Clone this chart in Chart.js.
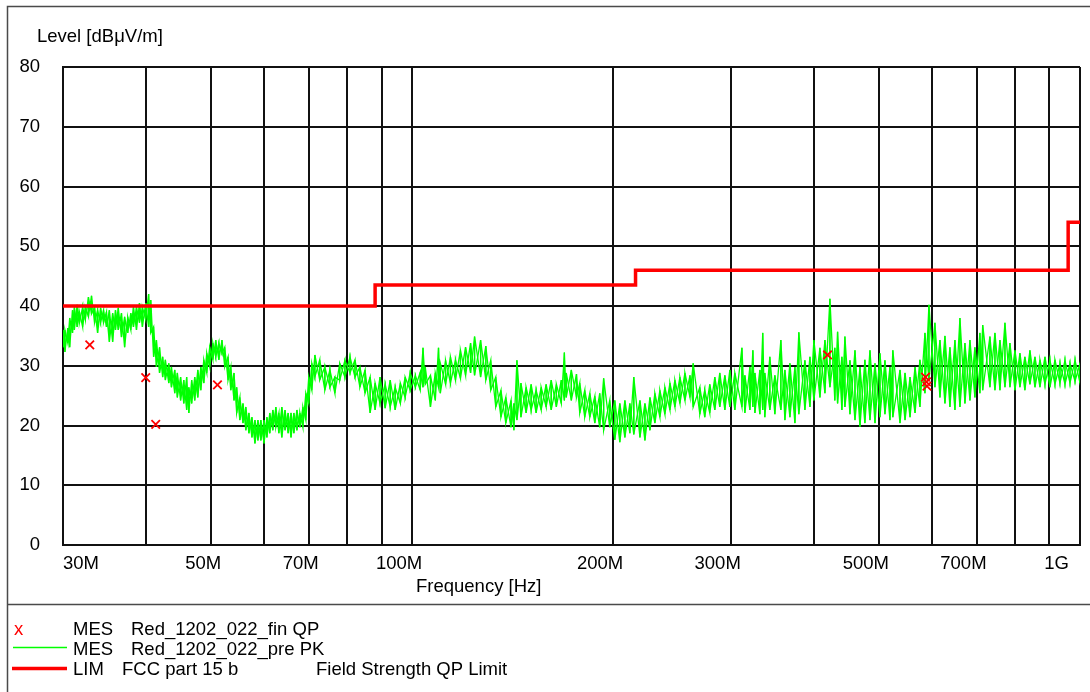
<!DOCTYPE html>
<html>
<head>
<meta charset="utf-8">
<title>Level [dBμV/m]</title>
<script src="https://cdn.jsdelivr.net/npm/chart.js@4.4.0/dist/chart.umd.min.js"></script>
<style>
  html, body { margin: 0; padding: 0; background: #fff; }
  canvas { display: block; }
</style>
</head>
<body>
<canvas id="emcChart" width="1090" height="692" style="width:1090px;height:692px"></canvas>
<script>
// frequency axis (MHz)
const gridFreq = [30, 40, 50, 60, 70, 80, 90, 100, 200, 300, 400, 500, 600, 700, 800, 900, 1000];
const xTickValues = [30, 50, 70, 100, 200, 300, 500, 700, 1000];
const xTickLabels = ['30M', '50M', '70M', '100M', '200M', '300M', '500M', '700M', '1G'];

// pre PK scan: per-bin lower and upper envelope of the trace (dBµV/m)
const traceFreq = [
  30.0, 30.2, 30.5, 30.7, 31.0, 31.2, 31.5, 31.75, 32.1, 32.4, 32.75, 33.1, 33.45, 33.8, 34.15, 34.5, 34.85,
  35.2, 35.6, 35.95, 36.3, 36.7, 37.1, 37.5, 37.9, 38.25, 38.65, 39.05, 39.45, 39.9, 40.3, 40.6, 41.0,
  41.4, 41.85, 42.3, 42.7, 43.2, 43.6, 44.1, 44.5, 45.0, 45.5, 45.95, 46.3, 46.75, 47.25, 47.75, 48.25, 48.75,
  49.25, 49.75, 50.3, 50.8, 51.35, 51.9, 52.4, 53.0, 53.5, 54.1, 54.6, 55.2, 55.8, 56.35, 56.95, 57.55, 58.15,
  58.75, 59.35, 60.0, 60.6, 61.2, 61.85, 62.5, 63.15, 63.8, 64.5, 65.2, 65.85, 66.5, 67.2, 67.9, 68.6, 69.3,
  70.0, 70.75, 71.5,
  72.7, 74.0, 75.3, 76.6, 77.9, 79.3, 80.7, 82.1, 83.5, 85.0, 86.5, 88.0, 89.5, 91.1, 92.7, 94.3, 96.0, 97.6,
  99.3, 101.1, 102.8, 103.8, 104.6, 106.5, 108.3, 109.5, 110.2, 112.2, 114.1, 116.1, 118.1, 120.2, 122.3, 124.0,
  126.6, 128.9, 131.1, 133.4, 135.8, 138.1, 140.6, 142.0, 143.5, 145.5, 148.1, 150.7, 153.3, 156.0, 158.7, 161.5,
  164.4, 167.2, 169.0, 170.1, 173.1, 176.2,
  178.2, 181.3, 184.5, 187.7, 190.9, 193.5, 197.6, 201.1, 204.6, 208.2, 211.8, 214.7, 219.3, 223.1, 227.0, 230.9,
  234.9, 239.0, 243.2, 247.4, 251.7, 256.1, 260.6, 263.5, 269.6, 274.2, 279.0, 283.9, 288.8, 293.9, 299.0, 304.2,
  311.7, 314.9, 320.4, 323.7, 326.0, 331.6, 334.9, 337.3, 343.2, 349.2, 356.5, 361.5, 367.8, 374.2, 379.3, 387.3,
  394.1, 399.5, 407.9, 415.0, 422.2,
  429.4, 433.5, 440.0, 444.6, 452.4, 460.3, 468.3, 476.3, 484.7, 493.2, 501.7, 510.4, 519.3, 524.5, 537.6, 547.0,
  556.5, 566.2, 575.8, 585.9, 594.0, 606.4, 617.0, 627.7, 638.6, 649.7, 661.0, 672.5, 684.2, 696.0, 708.1, 715.0,
  733.0, 745.8, 758.8, 772.0, 785.4, 799.1, 812.9, 826.9, 841.4, 856.1, 871.0, 886.2, 901.6, 917.3, 933.2, 949.5,
  966.0, 983.0, 1000
];
const traceLow = [
  33.1, 32.3, 33.8, 33.1, 35.5, 36.0, 36.5, 37.2, 36.5, 37.7, 38.2, 38.7, 37.2, 35.5, 37.2, 37.2, 36.5,
  34.0, 34.0, 36.0, 36.0, 34.8, 33.1, 35.5, 36.0, 36.5, 36.0, 37.2, 36.5, 37.7, 36.5, 35.5, 31.5,
  29.8, 28.8, 28.1, 27.6, 27.1, 26.4, 25.4, 24.7, 24.2, 23.7, 22.6, 22.1, 23.7, 24.2, 24.7, 25.9, 27.1,
  28.8, 29.8, 31.0, 31.5, 31.0, 32.1, 29.8, 27.6, 25.9, 24.2, 22.1, 20.9, 20.4, 19.2, 18.7, 18.0, 17.0,
  17.5, 17.5, 17.0, 18.0, 18.7, 19.2, 19.7, 18.7, 18.0, 19.2, 18.7, 18.0, 18.7, 19.2, 19.7, 19.7, 20.9,
  23.7, 25.9, 28.1,
  27.6, 25.9, 26.4, 25.4, 27.6, 28.1, 28.8, 28.1, 26.4, 25.4, 22.1, 22.6, 23.7, 22.9, 23.1, 22.6, 23.7, 24.7,
  25.9, 26.4, 25.9, 26.4, 26.9, 23.1, 24.2, 26.4, 25.4, 26.9, 27.1, 27.6, 27.9, 28.4, 28.8, 28.4,
  28.1, 27.6, 25.9, 23.1, 21.4, 20.4, 19.7, 19.2, 20.9, 21.4, 22.1, 22.6, 22.1, 22.6, 23.1, 22.6,
  23.1, 23.7, 24.2, 24.7, 24.2, 24.7,
  22.1, 21.4, 21.4, 20.4, 19.7, 19.2, 19.7, 17.6, 17.2, 18.0, 18.7, 18.5, 18.0, 17.5, 19.2, 20.4,
  21.4, 21.9, 22.6, 23.1, 23.7, 24.2, 24.7, 23.1, 21.9, 21.4, 22.1, 22.6, 23.1, 22.6, 23.1, 22.6,
  23.1, 22.1, 22.6, 23.1, 22.1, 21.9, 22.6, 21.4, 22.6, 21.9, 22.6, 20.9, 21.4, 20.4, 21.9, 22.6,
  23.1, 24.2, 24.7, 25.4, 26.4,
  24.2, 23.7, 22.6, 23.1, 21.9, 20.9, 19.8, 20.4, 20.9, 20.4, 21.4, 21.9, 20.9, 21.4, 20.4, 20.9,
  21.4, 22.1, 23.1, 25.4, 27.6, 26.4, 24.7, 23.7, 23.1, 22.6, 23.1, 23.7, 24.2, 24.7, 25.4, 25.9,
  26.4, 25.9, 25.9, 26.4, 26.4, 25.9, 26.4, 25.9, 26.9, 26.4, 26.4, 26.9, 26.4, 26.9, 27.1, 26.9,
  27.1, 27.4, 27.1
];
const traceHigh = [
  36.0, 36.0, 36.3, 38.0, 39.3, 39.8, 40.2, 39.0, 39.8, 39.8, 41.5, 41.7, 39.8, 39.3, 39.7, 39.3, 39.0,
  39.3, 38.8, 39.3, 39.7, 38.8, 38.2, 38.2, 38.8, 39.8, 39.8, 40.5, 39.8, 40.5, 42.0, 41.0, 36.5,
  34.3, 33.1, 31.5, 31.0, 30.4, 29.8, 29.3, 28.8, 28.1, 27.6, 28.1, 26.4, 27.6, 28.1, 29.3, 29.8, 31.0,
  32.1, 33.1, 33.8, 34.3, 33.8, 34.3, 33.1, 31.5, 29.8, 28.8, 26.4, 24.7, 23.7, 23.1, 22.1, 21.4, 20.9,
  20.9, 20.9, 20.9, 21.4, 22.1, 22.6, 23.1, 22.1, 23.1, 22.6, 22.1, 22.1, 22.1, 22.6, 22.1, 23.1, 25.4,
  28.1, 30.4, 31.8,
  31.0, 29.8, 29.3, 28.1, 30.4, 30.9, 31.5, 31.0, 29.8, 29.3, 28.1, 27.1, 28.1, 26.9, 27.6, 26.4, 27.1, 28.1,
  28.8, 28.4, 28.9, 33.0, 29.8, 28.4, 28.8, 33.0, 30.4, 30.9, 31.5, 31.0, 32.6, 33.1, 33.8, 34.9,
  34.3, 33.3, 30.9, 28.1, 25.9, 24.7, 24.2, 23.7, 30.9, 27.1, 26.4, 26.9, 25.9, 26.4, 26.9, 27.6,
  26.9, 27.6, 32.2, 28.8, 29.3, 28.6,
  27.1, 25.9, 25.4, 24.9, 25.4, 27.9, 24.2, 24.2, 23.7, 24.2, 23.7, 28.1, 24.2, 23.7, 24.7, 25.4,
  25.9, 26.4, 27.1, 27.6, 28.1, 28.8, 28.4, 30.4, 26.4, 25.9, 26.9, 28.1, 28.8, 28.4, 29.3, 28.8,
  33.0, 28.4, 29.8, 32.6, 28.8, 29.3, 35.5, 28.8, 31.5, 28.4, 34.3, 29.3, 30.4, 29.8, 35.6, 30.9,
  31.5, 34.3, 33.0, 34.3, 41.2,
  33.0, 35.7, 31.5, 34.9, 30.9, 32.6, 29.8, 31.0, 32.6, 30.4, 32.1, 30.9, 29.8, 32.6, 29.3, 28.8,
  28.1, 29.8, 31.0, 35.5, 40.2, 37.2, 34.3, 35.0, 33.1, 34.3, 38.0, 33.8, 34.3, 33.1, 35.5, 36.8,
  34.9, 35.5, 34.3, 37.2, 33.8, 32.6, 32.1, 31.5, 32.6, 31.5, 31.0, 31.5, 30.9, 31.0, 30.4, 30.9,
  30.4, 30.9, 30.4
];

// fin QP results
const qpFreq = [32.9, 39.9, 41.3, 51.1, 418.8, 587.0, 589.0, 590.0];
const qpLevel = [33.5, 28.0, 20.2, 26.8, 31.8, 28.1, 27.3, 26.6];

// FCC part 15 b limit
const limitFreq = [30, 88, 88, 216, 216, 960, 960, 1000];
const limitLevel = [40, 40, 43.5, 43.5, 46, 46, 54, 54];

const FONT_FAMILY = '"Liberation Sans", Arial, sans-serif';
const FONT = '18.5px ' + FONT_FAMILY;

// each bin is drawn as a vertical stroke; the two passes give crossing diagonals
const traceDown = [];
const traceUp = [];
traceFreq.forEach((f, i) => {
  traceDown.push({ x: f, y: traceHigh[i] }, { x: f, y: traceLow[i] });
  traceUp.push({ x: f, y: traceLow[i] }, { x: f, y: traceHigh[i] });
});

const framePlugin = {
  id: 'frameAndText',
  afterDraw(chart) {
    const ctx = chart.ctx;
    const xs = chart.scales.x;
    const area = chart.chartArea;
    ctx.save();

    // outer frame and legend separator
    ctx.strokeStyle = '#4a4a4a';
    ctx.lineWidth = 1.5;
    ctx.beginPath();
    ctx.moveTo(7.5, 692);
    ctx.lineTo(7.5, 6.5);
    ctx.lineTo(1090, 6.5);
    ctx.moveTo(7.5, 604.5);
    ctx.lineTo(1090, 604.5);
    ctx.stroke();

    ctx.font = FONT;
    ctx.fillStyle = '#000';
    ctx.textBaseline = 'alphabetic';

    // axis titles
    ctx.textAlign = 'left';
    ctx.fillText('Level [dBμV/m]', 37, 41.5);
    ctx.fillText('Frequency [Hz]', 416, 591.5);

    // frequency tick labels
    const labelY = area.bottom + 24;
    xTickValues.forEach((v, i) => {
      const px = xs.getPixelForValue(v);
      if (i === 0) {
        ctx.textAlign = 'left';
        ctx.fillText(xTickLabels[i], px, labelY);
      } else if (i === xTickValues.length - 1) {
        ctx.textAlign = 'right';
        ctx.fillText(xTickLabels[i], px - 11, labelY);
      } else {
        ctx.textAlign = 'right';
        ctx.fillText(xTickLabels[i], px + 10, labelY);
      }
    });

    // legend
    ctx.textAlign = 'left';
    ctx.fillStyle = '#ff0000';
    ctx.fillText('x', 14, 634.5);
    ctx.fillStyle = '#000';
    ctx.fillText('MES', 73, 634.5);
    ctx.fillText('Red_1202_022_fin QP', 131, 634.5);
    ctx.fillText('MES', 73, 654.5);
    ctx.fillText('Red_1202_022_pre PK', 131, 654.5);
    ctx.fillText('LIM', 73, 675);
    ctx.fillText('FCC part 15 b', 122, 675);
    ctx.fillText('Field Strength QP Limit', 316, 675);

    ctx.strokeStyle = '#00ff00';
    ctx.lineWidth = 1.5;
    ctx.beginPath();
    ctx.moveTo(13, 647.5);
    ctx.lineTo(67, 647.5);
    ctx.stroke();
    ctx.strokeStyle = '#ff0000';
    ctx.lineWidth = 3.5;
    ctx.beginPath();
    ctx.moveTo(12, 668.5);
    ctx.lineTo(67, 668.5);
    ctx.stroke();

    ctx.restore();
  }
};

const gridStyle = { color: '#111', lineWidth: 2, drawTicks: false };

new Chart(document.getElementById('emcChart'), {
  type: 'line',
  data: {
    datasets: [
      {
        label: 'MES Red_1202_022_fin QP',
        data: qpFreq.map((f, i) => ({ x: f, y: qpLevel[i] })),
        showLine: false,
        pointStyle: 'crossRot',
        pointRadius: 6,
        pointBorderWidth: 1.8,
        pointBorderColor: '#ff0000',
        borderColor: '#ff0000'
      },
      {
        label: 'LIM FCC part 15 b',
        data: limitFreq.map((f, i) => ({ x: f, y: limitLevel[i] })),
        borderColor: '#ff0000',
        borderWidth: 3.5,
        pointRadius: 0,
        tension: 0
      },
      {
        label: 'MES Red_1202_022_pre PK',
        data: traceDown,
        borderColor: '#00ff00',
        borderWidth: 1.3,
        pointRadius: 0,
        tension: 0
      },
      {
        label: 'MES Red_1202_022_pre PK (second pass)',
        data: traceUp,
        borderColor: '#00ff00',
        borderWidth: 1.3,
        pointRadius: 0,
        tension: 0
      }
    ]
  },
  options: {
    responsive: false,
    animation: false,
    devicePixelRatio: 1,
    layout: { padding: { left: 0, right: 10, top: 67, bottom: 0 } },
    plugins: { legend: { display: false }, tooltip: { enabled: false } },
    scales: {
      x: {
        type: 'logarithmic',
        min: 30,
        max: 1000,
        afterBuildTicks: (s) => { s.ticks = gridFreq.map(v => ({ value: v })); },
        afterFit: (s) => { s.height = 147; },
        ticks: { display: false },
        grid: gridStyle,
        border: { display: true, color: '#111', width: 2 }
      },
      y: {
        min: 0,
        max: 80,
        afterFit: (s) => { s.width = 63; },
        ticks: { stepSize: 10, color: '#000', padding: 23, font: { family: FONT_FAMILY, size: 18.5 } },
        grid: gridStyle,
        border: { display: true, color: '#111', width: 2 }
      }
    }
  },
  plugins: [framePlugin]
});
</script>
</body>
</html>
